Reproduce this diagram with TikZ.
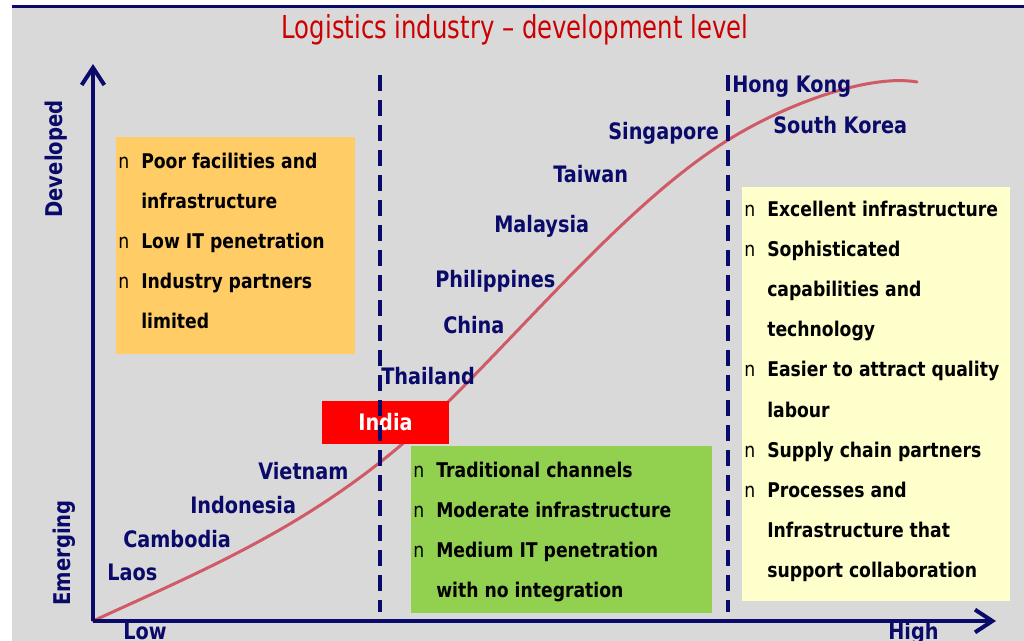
\documentclass[tikz,border=0pt]{standalone}
\usepackage{fontspec}
\usetikzlibrary{arrows.meta}
\setmainfont{DejaVu Sans}
\newfontfamily\titlefont{DejaVu Sans}[FakeStretch=0.77]
\newfontfamily\narrowfont{DejaVu Sans}[FakeStretch=0.85]

\definecolor{bggray}{HTML}{D9D9D9}
\definecolor{navy}{HTML}{0A0A6B}
\definecolor{titlered}{HTML}{CC0000}
\definecolor{curvered}{HTML}{D05A66}
\definecolor{orangebox}{HTML}{FFCC66}
\definecolor{greenbox}{HTML}{92D050}
\definecolor{yellowbox}{HTML}{FFFFCC}

\tikzset{
  axis/.style={draw=navy, line width=3pt, -{Straight Barb[length=13pt,width=17pt]}},
  divider/.style={draw=navy, line width=2.6pt, dash pattern=on 12pt off 6.75pt},
  country/.style={anchor=base west, inner sep=0pt, text=navy,
    font=\narrowfont\bfseries\fontsize{17}{17}\selectfont},
  axlabel/.style={anchor=base, inner sep=0pt, text=navy,
    font=\narrowfont\bfseries\fontsize{17.3}{17.3}\selectfont},
  bul/.style={anchor=base west, inner sep=0pt, text=black,
    font=\narrowfont\fontsize{15.2}{15.2}\selectfont},
  itm/.style={anchor=base west, inner sep=0pt, text=black,
    font=\narrowfont\bfseries\fontsize{15.2}{15.2}\selectfont},
}

\begin{document}
\begin{tikzpicture}[x=0.75pt,y=-0.75pt]
\useasboundingbox (0,0) rectangle (1024,641);
\clip (0,0) rectangle (1024,641);

% page and panel
\fill[white] (0,0) rectangle (1024,641);
\fill[bggray] (12,8) rectangle (1024,641);
\draw[navy, line width=1.6pt] (12,6.5) -- (1024,6.5);

% title
\node (title) [anchor=base, inner sep=0pt, text=titlered,
  font=\titlefont\fontsize{23.7}{23.7}\selectfont] at (515,39)
  {Logistics industry \textendash{} development level};

% development curve (S-shaped growth)
\draw[curvered, line width=2.25pt, line cap=round]
  (93,621) .. controls (212,566) and (331,519) .. (450,400)
           .. controls (543,307) and (635,198) .. (728,140)
           .. controls (791,101) and (872,74) .. (917,82);

% stage boxes
\fill[orangebox] (116,137) rectangle (355,354);
\fill[greenbox] (411,446) rectangle (712,613);
\fill[yellowbox] (742,187) rectangle (1010,601);

% India marker
\node (india) [fill=red, text=white, inner sep=0pt,
  minimum width=95.25pt, minimum height=32.25pt,
  font=\narrowfont\bfseries\fontsize{17}{17}\selectfont] at (385.5,422.5) {India};

% stage dividers
\coordinate (d1top) at (380,75);
\coordinate (d1bot) at (380,612);
\coordinate (d2top) at (728,75);
\coordinate (d2bot) at (728,612);
\draw[divider] (d1top) -- (d1bot);
\draw[divider] (d2top) -- (d2bot);

% axes
\coordinate (O) at (93,621);
\coordinate (ytip) at (93,64);
\coordinate (xtip) at (996,621);
\draw[axis] (O) -- (ytip);
\draw[axis] (O) -- (xtip);

% axis labels
\node (developed) [axlabel, rotate=90] at (62,159) {Developed};
\node (emerging) [axlabel, rotate=90] at (70,553) {Emerging};
\node (low) [country] at (123,639) {Low};
\node (high) [country] at (888,639) {High};

% countries
\node (laos) [country] at (107,580) {Laos};
\node (cambodia) [country] at (123,547) {Cambodia};
\node (indonesia) [country] at (190,513) {Indonesia};
\node (vietnam) [country] at (258,479) {Vietnam};
\node (thailand) [country] at (381,384) {Thailand};
\node (china) [country] at (443,334) {China};
\node (philippines) [country] at (435,288) {Philippines};
\node (malaysia) [country] at (494,233) {Malaysia};
\node (taiwan) [country] at (553,183) {Taiwan};
\node (singapore) [country] at (608,140) {Singapore};
\node (hongkong) [country] at (732,93) {Hong Kong};
\node (southkorea) [country] at (773,134) {South Korea};

% emerging stage
\node (ob1) [bul] at (118,169) {n};
\node (ot1) [itm] at (141,169) {Poor facilities and};
\node (ot1b) [itm] at (141,209) {infrastructure};
\node (ob2) [bul] at (118,249) {n};
\node (ot2) [itm] at (141,249) {Low IT penetration};
\node (ob3) [bul] at (118,289) {n};
\node (ot3) [itm] at (141,289) {Industry partners};
\node (ot3b) [itm] at (141,329) {limited};

% developing stage
\node (gb1) [bul] at (413,477) {n};
\node (gt1) [itm] at (436,477) {Traditional channels};
\node (gb2) [bul] at (413,517) {n};
\node (gt2) [itm] at (436,517) {Moderate infrastructure};
\node (gb3) [bul] at (413,557) {n};
\node (gt3) [itm] at (436,557) {Medium IT penetration};
\node (gt3b) [itm] at (436,597) {with no integration};

% developed stage
\node (yb1) [bul] at (744,217) {n};
\node (yt1) [itm] at (767,217) {Excellent infrastructure};
\node (yb2) [bul] at (744,257) {n};
\node (yt2) [itm] at (767,257) {Sophisticated};
\node (yt2b) [itm] at (767,297) {capabilities and};
\node (yt2c) [itm] at (767,337) {technology};
\node (yb3) [bul] at (744,377) {n};
\node (yt3) [itm] at (767,377) {Easier to attract quality};
\node (yt3b) [itm] at (767,417) {labour};
\node (yb4) [bul] at (744,457) {n};
\node (yt4) [itm] at (767,457) {Supply chain partners};
\node (yb5) [bul] at (744,497) {n};
\node (yt5) [itm] at (767,497) {Processes and};
\node (yt5b) [itm] at (767,537) {Infrastructure that};
\node (yt5c) [itm] at (767,577) {support collaboration};
\end{tikzpicture}
\end{document}
